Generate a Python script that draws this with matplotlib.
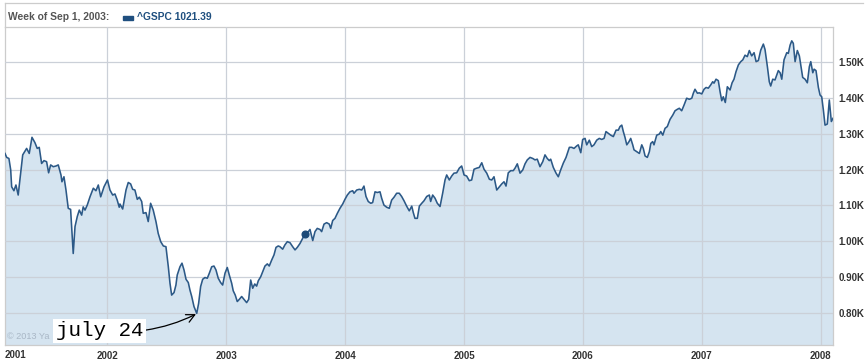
import matplotlib
matplotlib.use("Agg")
import matplotlib.pyplot as plt

# weekly closes of ^GSPC (decimal year, index level)
years = [
    2001.138, 2001.152, 2001.171, 2001.186, 2001.194, 2001.213, 2001.230, 2001.249, 2001.270, 2001.287,
    2001.320, 2001.342, 2001.365, 2001.390, 2001.409, 2001.426, 2001.446, 2001.466, 2001.488, 2001.505,
    2001.522, 2001.544, 2001.567, 2001.586, 2001.609, 2001.617, 2001.634, 2001.651, 2001.670, 2001.690,
    2001.712, 2001.727, 2001.746, 2001.763, 2001.783, 2001.796, 2001.811, 2001.830, 2001.853, 2001.881,
    2001.903, 2001.923, 2001.943, 2001.971, 2002.000, 2002.021, 2002.044, 2002.063, 2002.082, 2002.099,
    2002.105, 2002.128, 2002.156, 2002.175, 2002.195, 2002.212, 2002.231, 2002.251, 2002.268, 2002.288,
    2002.301, 2002.324, 2002.343, 2002.363, 2002.385, 2002.408, 2002.427, 2002.448, 2002.470, 2002.492,
    2002.512, 2002.526, 2002.540, 2002.560, 2002.576, 2002.587, 2002.610, 2002.627, 2002.644, 2002.661,
    2002.680, 2002.694, 2002.709, 2002.728, 2002.751, 2002.767, 2002.784, 2002.801, 2002.820, 2002.840,
    2002.857, 2002.877, 2002.896, 2002.913, 2002.932, 2002.952, 2002.969, 2002.989, 2003.008, 2003.025,
    2003.045, 2003.058, 2003.075, 2003.092, 2003.109, 2003.129, 2003.149, 2003.171, 2003.188, 2003.205,
    2003.222, 2003.239, 2003.255, 2003.269, 2003.289, 2003.306, 2003.325, 2003.345, 2003.361, 2003.382,
    2003.401, 2003.418, 2003.437, 2003.451, 2003.474, 2003.493, 2003.513, 2003.536, 2003.558, 2003.578,
    2003.597, 2003.620, 2003.642, 2003.662, 2003.690, 2003.704, 2003.727, 2003.746, 2003.765, 2003.788,
    2003.802, 2003.822, 2003.844, 2003.866, 2003.878, 2003.895, 2003.914, 2003.934, 2003.956, 2003.979,
    2003.998, 2004.018, 2004.040, 2004.063, 2004.074, 2004.097, 2004.119, 2004.139, 2004.158, 2004.175,
    2004.194, 2004.215, 2004.231, 2004.251, 2004.270, 2004.293, 2004.307, 2004.326, 2004.349, 2004.371,
    2004.391, 2004.411, 2004.433, 2004.455, 2004.475, 2004.495, 2004.517, 2004.539, 2004.560, 2004.573,
    2004.587, 2004.607, 2004.624, 2004.644, 2004.663, 2004.686, 2004.708, 2004.719, 2004.736, 2004.756,
    2004.775, 2004.798, 2004.820, 2004.840, 2004.854, 2004.876, 2004.896, 2004.915, 2004.938, 2004.960,
    2004.980, 2005.000, 2005.022, 2005.044, 2005.064, 2005.084, 2005.107, 2005.128, 2005.149, 2005.168,
    2005.191, 2005.213, 2005.233, 2005.252, 2005.275, 2005.297, 2005.317, 2005.336, 2005.353, 2005.372,
    2005.393, 2005.414, 2005.429, 2005.448, 2005.471, 2005.494, 2005.513, 2005.532, 2005.555, 2005.578,
    2005.597, 2005.616, 2005.639, 2005.662, 2005.681, 2005.700, 2005.717, 2005.729, 2005.751, 2005.774,
    2005.793, 2005.813, 2005.835, 2005.858, 2005.886, 2005.906, 2005.925, 2005.948, 2005.961, 2005.982,
    2005.998, 2006.018, 2006.032, 2006.054, 2006.074, 2006.093, 2006.116, 2006.138, 2006.158, 2006.178,
    2006.194, 2006.214, 2006.234, 2006.256, 2006.279, 2006.298, 2006.312, 2006.327, 2006.340, 2006.354,
    2006.369, 2006.388, 2006.402, 2006.419, 2006.430, 2006.453, 2006.475, 2006.495, 2006.508, 2006.523,
    2006.542, 2006.559, 2006.571, 2006.587, 2006.598, 2006.621, 2006.643, 2006.655, 2006.672, 2006.691,
    2006.710, 2006.733, 2006.756, 2006.775, 2006.794, 2006.811, 2006.831, 2006.851, 2006.873, 2006.895,
    2006.916, 2006.929, 2006.943, 2006.963, 2006.979, 2007.000, 2007.019, 2007.036, 2007.055, 2007.075,
    2007.092, 2007.103, 2007.120, 2007.139, 2007.154, 2007.168, 2007.181, 2007.198, 2007.215, 2007.238,
    2007.255, 2007.271, 2007.288, 2007.308, 2007.328, 2007.345, 2007.364, 2007.383, 2007.400, 2007.420,
    2007.440, 2007.457, 2007.476, 2007.496, 2007.518, 2007.532, 2007.552, 2007.568, 2007.580, 2007.597,
    2007.616, 2007.631, 2007.644, 2007.659, 2007.673, 2007.692, 2007.715, 2007.728, 2007.743, 2007.757,
    2007.770, 2007.785, 2007.804, 2007.821, 2007.833, 2007.849, 2007.869, 2007.888, 2007.905, 2007.917,
    2007.934, 2007.945, 2007.961, 2007.981, 2007.995, 2008.009, 2008.023, 2008.037, 2008.056, 2008.073,
    2008.090, 2008.104,
]
closes = [
    1245, 1234, 1231, 1199, 1152, 1141, 1157, 1129, 1190, 1241,
    1259, 1245, 1290, 1275, 1259, 1262, 1217, 1225, 1222, 1191,
    1213, 1208, 1210, 1213, 1185, 1166, 1180, 1143, 1092, 1089,
    966, 1041, 1069, 1087, 1073, 1096, 1087, 1101, 1124, 1148,
    1141, 1157, 1124, 1152, 1171, 1143, 1129, 1132, 1115, 1095,
    1104, 1090, 1143, 1164, 1160, 1145, 1143, 1117, 1123, 1111,
    1078, 1080, 1055, 1106, 1087, 1055, 1022, 999, 987, 985,
    929, 883, 850, 857, 878, 906, 929, 939, 920, 894,
    885, 864, 846, 818, 799, 827, 874, 894, 899, 897,
    911, 929, 931, 920, 897, 885, 878, 911, 927, 906,
    883, 862, 850, 832, 838, 846, 838, 829, 838, 892,
    869, 881, 875, 890, 901, 915, 931, 937, 931, 948,
    962, 983, 987, 985, 978, 990, 999, 996, 985, 976,
    983, 994, 1008, 1021, 1027, 1033, 1002, 1027, 1036, 1033,
    1027, 1048, 1052, 1048, 1036, 1058, 1064, 1078, 1092, 1104,
    1117, 1129, 1138, 1141, 1134, 1143, 1145, 1143, 1154, 1125,
    1111, 1106, 1108, 1138, 1136, 1138, 1120, 1101, 1095, 1092,
    1115, 1123, 1134, 1134, 1125, 1113, 1098, 1085, 1098, 1080,
    1064, 1064, 1098, 1106, 1113, 1125, 1129, 1111, 1129, 1120,
    1106, 1097, 1134, 1171, 1185, 1171, 1182, 1190, 1191, 1204,
    1210, 1185, 1182, 1169, 1171, 1201, 1204, 1206, 1219, 1201,
    1190, 1173, 1171, 1180, 1143, 1152, 1160, 1166, 1154, 1191,
    1197, 1197, 1204, 1216, 1190, 1199, 1216, 1227, 1234, 1231,
    1227, 1229, 1208, 1222, 1241, 1231, 1225, 1229, 1206, 1190,
    1180, 1199, 1218, 1234, 1262, 1262, 1259, 1266, 1269, 1247,
    1284, 1287, 1269, 1282, 1264, 1269, 1282, 1287, 1284, 1287,
    1306, 1301, 1296, 1292, 1310, 1310, 1320, 1324, 1306, 1290,
    1269, 1278, 1287, 1269, 1255, 1250, 1245, 1269, 1259, 1238,
    1234, 1250, 1273, 1278, 1269, 1296, 1299, 1306, 1296, 1315,
    1320, 1340, 1352, 1364, 1368, 1371, 1364, 1380, 1399, 1396,
    1399, 1413, 1424, 1413, 1414, 1411, 1424, 1429, 1427, 1436,
    1445, 1441, 1452, 1448, 1417, 1392, 1403, 1387, 1431, 1422,
    1442, 1452, 1473, 1492, 1501, 1506, 1519, 1515, 1532, 1517,
    1526, 1501, 1504, 1533, 1550, 1535, 1487, 1445, 1433, 1452,
    1450, 1464, 1476, 1470, 1452, 1506, 1526, 1524, 1547, 1559,
    1552, 1501, 1532, 1517, 1492, 1457, 1452, 1442, 1487, 1501,
    1470, 1480, 1476, 1429, 1408, 1403, 1366, 1324, 1327, 1394,
    1334, 1343,
]
year_ticks = [2002, 2003, 2004, 2005, 2006, 2007, 2008]
level_ticks = [800, 900, 1000, 1100, 1200, 1300, 1400, 1500]
marker_week = (2003.662, 1021.39)
header_left = "Week of Sep 1, 2003:"
header_right = "^GSPC 1021.39"
note_text = "july 24"
note_point = (2002.745, 797)

W, H = 867, 364
fig = plt.figure(figsize=(W / 100, H / 100), dpi=100)
fig.patch.set_facecolor("white")
ax = fig.add_axes([5 / W, 19 / H, 828 / W, 318 / H])

grid_c = "#cbd0d8"
fill_c = "#d5e4f0"
line_c = "#2c5987"
label_c = "#333333"
ui_font = "Liberation Sans"

ax.fill_between(years, closes, 0, color=fill_c, lw=0, zorder=1)
ax.plot(years, closes, color=line_c, lw=1.15, zorder=3)
ax.plot([marker_week[0]], [marker_week[1]], "o", color="#1c4a78", ms=4.8, zorder=4)

ax.set_xlim(2001.138, 2008.104)
ax.set_ylim(710.8, 1597.6)
ax.set_xticks(year_ticks)
ax.set_xticklabels([str(y) for y in year_ticks])
ax.set_yticks(level_ticks)
ax.set_yticklabels(["%.2fK" % (v / 1000) for v in level_ticks])
ax.yaxis.tick_right()
ax.tick_params(length=0, labelsize=7, labelcolor=label_c)
ax.tick_params(axis="y", pad=4)
ax.tick_params(axis="x", pad=4)
for lab in ax.get_xticklabels() + ax.get_yticklabels():
    lab.set_fontweight("bold")
    lab.set_family(ui_font)
ax.grid(True, color=grid_c, lw=0.9, zorder=2)
ax.set_axisbelow(False)
for s in ax.spines.values():
    s.set_color("#cccccc")
    s.set_linewidth(0.9)

ax.text(0.0, -0.0155, "2001", transform=ax.transAxes, ha="left", va="top",
        fontsize=7, fontweight="bold", color=label_c, family=ui_font)

# faint copyright, mostly hidden by the note box in the original
ax.text(0.003, 0.028, "\u00a9 2013 Ya", transform=ax.transAxes, fontsize=6.6,
        color="#a9b7c6", va="center", family=ui_font, zorder=2)

# header strip
fig.add_artist(plt.Line2D([5 / W, 863 / W], [1 - 3 / H, 1 - 3 / H], color="#cccccc", lw=0.9))
fig.add_artist(plt.Line2D([5 / W, 5 / W], [1 - 3 / H, 1 - 27 / H], color="#cccccc", lw=0.9))
fig.text(8 / W, 1 - 17.5 / H, header_left, fontsize=7.4, fontweight="bold",
         color="#555555", va="center", family=ui_font)
fig.add_artist(plt.Rectangle((123 / W, 1 - 19.5 / H), 10 / W, 4 / H, color="#1f4f7f"))
fig.text(137 / W, 1 - 17.5 / H, header_right, fontsize=7.4, fontweight="bold",
         color="#1f4f7f", va="center", family=ui_font)

ax.annotate(note_text, xy=note_point, xytext=(2001.565, 751),
            fontsize=15, family="Liberation Mono", color="black", va="center", ha="left",
            bbox=dict(boxstyle="square,pad=0.12", fc="white", ec="none"),
            arrowprops=dict(arrowstyle="->", color="black", lw=0.9,
                            connectionstyle="arc3,rad=0.15", shrinkA=0, shrinkB=0),
            zorder=6)

fig.savefig("out.png", dpi=100)
